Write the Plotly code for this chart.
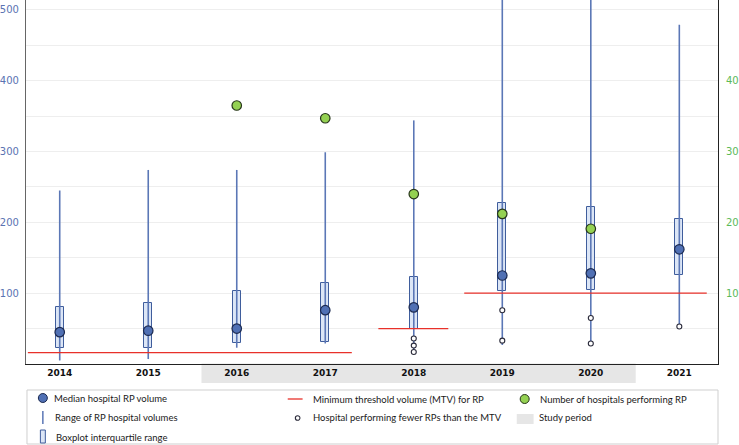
import plotly.graph_objects as go

years = ["2014", "2015", "2016", "2017", "2018", "2019", "2020", "2021"]
range_min = [5, 7, 23, 29, 17, 27, 29, 53]
range_max = [245, 274, 274, 299, 344, 520, 520, 479]
q1 = [23, 23, 29, 31, 50, 103, 105, 125]
q3 = [81, 86, 103, 114, 123, 227, 222, 205]
median = [45, 47, 50, 76, 80, 125, 128, 162]
n_hospitals = [None, None, 36.5, 34.7, 24.0, 21.2, 19.1, None]
outlier_year_idx = [4, 4, 4, 5, 5, 6, 6, 7]
outlier_vals = [36, 26, 17, 76, 33, 65, 29, 53]
# MTV: (first year index, last year index, value)
mtv_groups = [(0, 3, 16), (4, 4, 50), (5, 7, 100)]
left_ticks = [100, 200, 300, 400, 500]
right_ticks = [10, 20, 30, 40]

W, H = 739, 445
ML, MR, MT, MB = 23, 18, 0, 81
PW = W - ML - MR
PH = H - MT - MB
YMAX = 514

xs = list(range(len(years)))

def px_x(p):
    return (p - ML) / PW

def px_y(p):
    return (H - MB - p) / PH

fig = go.Figure()

# whiskers (range)
wx, wy = [], []
for i, lo, hi in zip(xs, range_min, range_max):
    wx += [i, i, None]
    wy += [lo, hi, None]
fig.add_trace(go.Scatter(x=wx, y=wy, mode="lines",
                         line=dict(color="#5b77b6", width=1.6),
                         hoverinfo="skip", showlegend=False))

# IQR boxes
fig.add_trace(go.Bar(x=xs, y=[b - a for a, b in zip(q1, q3)], base=q1,
                     width=0.088, marker=dict(color="#dce6f6",
                     line=dict(color="#3f5d9c", width=1)),
                     showlegend=False))

# MTV lines
pads = [(-0.36, 0.30), (-0.40, 0.39), (-0.43, 0.31)]
mx, my = [], []
for (a, b, v), (pl, pr) in zip(mtv_groups, pads):
    mx += [a + pl, b + pr, None]
    my += [v, v, None]
fig.add_trace(go.Scatter(x=mx, y=my, mode="lines",
                         line=dict(color="#e8312a", width=1.3),
                         hoverinfo="skip", showlegend=False))

# outliers
fig.add_trace(go.Scatter(x=outlier_year_idx, y=outlier_vals, mode="markers",
                         marker=dict(size=5, color="white",
                                     line=dict(color="#2a2a3a", width=1.1)),
                         showlegend=False))

# medians
fig.add_trace(go.Scatter(x=xs, y=median, mode="markers",
                         marker=dict(size=9.5, color="#5070b4",
                                     line=dict(color="#1c2a50", width=1.2)),
                         showlegend=False))

# number of hospitals
fig.add_trace(go.Scatter(x=xs, y=n_hospitals, mode="markers", yaxis="y2",
                         marker=dict(size=9.5, color="#94d152",
                                     line=dict(color="#27351a", width=1.2)),
                         showlegend=False))

shapes = []
# study period band behind tick labels
shapes.append(dict(type="rect", xref="paper", yref="paper",
                   x0=px_x(200), x1=px_x(638), y0=px_y(383), y1=px_y(363.5),
                   fillcolor="#e6e6e6", line=dict(width=0), layer="below"))
# legend box
shapes.append(dict(type="rect", xref="paper", yref="paper",
                   x0=px_x(24), x1=px_x(721), y0=px_y(444), y1=px_y(390),
                   line=dict(color="#cfcfcf", width=1), fillcolor="rgba(0,0,0,0)"))

def circle(cx, cy, r, fill, line, lw):
    return dict(type="circle", xref="paper", yref="paper",
                xsizemode="pixel", ysizemode="pixel",
                xanchor=px_x(cx), yanchor=px_y(cy),
                x0=-r, x1=r, y0=-r, y1=r,
                fillcolor=fill, line=dict(color=line, width=lw))

shapes.append(circle(40, 398, 4.5, "#5070b4", "#1c2a50", 1))
shapes.append(dict(type="line", xref="paper", yref="paper",
                   x0=px_x(40), x1=px_x(40), y0=px_y(411), y1=px_y(424),
                   line=dict(color="#5b77b6", width=1.5)))
shapes.append(dict(type="rect", xref="paper", yref="paper",
                   x0=px_x(37.5), x1=px_x(42.5), y0=px_y(443), y1=px_y(430),
                   fillcolor="#dce6f6", line=dict(color="#3f5d9c", width=1)))
shapes.append(dict(type="line", xref="paper", yref="paper",
                   x0=px_x(287), x1=px_x(302), y0=px_y(399), y1=px_y(399),
                   line=dict(color="#e8312a", width=1.3)))
shapes.append(circle(297, 418, 2.3, "white", "#2a2a3a", 1.1))
shapes.append(circle(526, 399, 4.5, "#94d152", "#27351a", 1))
shapes.append(dict(type="rect", xref="paper", yref="paper",
                   x0=px_x(518), x1=px_x(535), y0=px_y(424), y1=px_y(414),
                   fillcolor="#e6e6e6", line=dict(width=0)))

annotations = []
def label(txt, x, y):
    annotations.append(dict(text=txt, xref="paper", yref="paper",
                            x=px_x(x - 3), y=px_y(y), xanchor="left", yanchor="middle",
                            showarrow=False,
                            font=dict(family="Lato", size=9.5, color="#1a1a1a")))

label("Median hospital RP volume", 52, 398)
label("Range of RP hospital volumes", 53, 418)
label("Boxplot interquartile range", 54, 437)
label("Minimum threshold volume (MTV) for RP", 313, 399)
label("Hospital performing fewer RPs than the MTV", 313, 418)
label("Number of hospitals performing RP", 542, 399)
label("Study period", 541, 418)

fig.update_layout(
    width=W, height=H,
    margin=dict(l=ML, r=MR, t=MT, b=MB, pad=0),
    paper_bgcolor="white", plot_bgcolor="white",
    showlegend=False, bargap=0,
    xaxis=dict(range=[-0.381, 7.437], tickvals=xs,
               ticktext=["<b>%s</b>" % y for y in years],
               tickfont=dict(family="DejaVu Sans", size=9, color="#111"),
               showline=True, linecolor="#222", linewidth=1,
               showgrid=False, zeroline=False, ticks="", fixedrange=True),
    yaxis=dict(range=[0, YMAX], tickvals=left_ticks,
               tickfont=dict(family="DejaVu Sans", size=10, color="#5a73b2"),
               showline=True, linecolor="#666", linewidth=1.2,
               showgrid=True, gridcolor="#eeeeee", gridwidth=1,
               minor=dict(dtick=50, tick0=0, showgrid=True, gridcolor="#eeeeee"),
               zeroline=False, ticks="", ticklabelstandoff=4),
    yaxis2=dict(range=[0, YMAX / 10], tickvals=right_ticks, overlaying="y",
                side="right",
                tickfont=dict(family="DejaVu Sans", size=10, color="#5cba5a"),
                showline=True, linecolor="#222", linewidth=1,
                showgrid=False, zeroline=False, ticks="", ticklabelstandoff=5),
    shapes=shapes, annotations=annotations,
)

fig.write_html(
    "out.html",
    config={"displayModeBar": False},
    post_script="document.body.style.margin='0';document.body.style.overflow='hidden';",
)
